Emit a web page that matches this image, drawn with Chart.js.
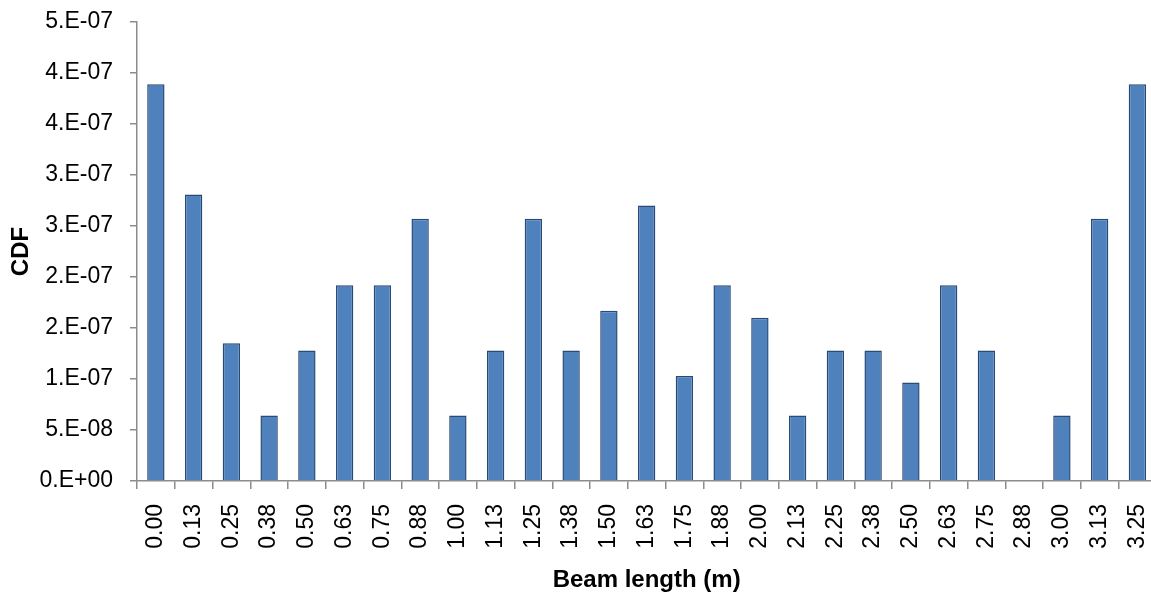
<!DOCTYPE html>
<html>
<head>
<meta charset="utf-8">
<script src="https://cdn.jsdelivr.net/npm/chart.js@4"></script>
<style>
    html, body { margin: 0; padding: 0; background: #fff; overflow: hidden; }
    canvas { display: block; }
</style>
</head>
<body>
<canvas id="grafico-cdf" width="1180" height="599"></canvas>
<script>
    // categories (beam length, m)
    const beamLength = ['0.00', '0.13', '0.25', '0.38', '0.50', '0.63', '0.75', '0.88', '1.00',
        '1.13', '1.25', '1.38', '1.50', '1.63', '1.75', '1.88', '2.00', '2.13', '2.25',
        '2.38', '2.50', '2.63', '2.75', '2.88', '3.00', '3.13', '3.25'];

    // CDF values
    const cdfValues = [3.89e-7, 2.81e-7, 1.35e-7, 6.42e-8, 1.28e-7, 1.92e-7, 1.92e-7, 2.57e-7, 6.42e-8,
        1.28e-7, 2.57e-7, 1.28e-7, 1.67e-7, 2.70e-7, 1.03e-7, 1.92e-7, 1.60e-7, 6.42e-8, 1.28e-7,
        1.28e-7, 9.65e-8, 1.92e-7, 1.28e-7, 0, 6.42e-8, 2.57e-7, 3.89e-7];

    // y axis ticks, labelled as Excel's 0.E+00 format shows them
    const yTickValues = [0, 5e-8, 1e-7, 1.5e-7, 2e-7, 2.5e-7, 3e-7, 3.5e-7, 4e-7, 4.5e-7];
    const yTickLabels = ['0.E+00', '5.E-08', '1.E-07', '2.E-07', '2.E-07', '3.E-07', '3.E-07', '4.E-07', '4.E-07', '5.E-07'];

    const axisColor = '#8c8c8c';
    const fontFamily = '"Liberation Sans", Arial, sans-serif';

    const ctx = document.getElementById('grafico-cdf');

    new Chart(ctx, {
        type: 'bar',
        data: {
            labels: beamLength,
            datasets: [{
                label: 'CDF',
                data: cdfValues,
                backgroundColor: '#4f81bd',
                borderColor: '#284a78',
                borderWidth: 1.5,
                barPercentage: 0.46,
                categoryPercentage: 1
            }]
        },
        options: {
            responsive: false,
            animation: false,
            layout: { padding: { top: 22, left: 0, right: 0, bottom: 0 } },
            plugins: {
                legend: { display: false },
                tooltip: { enabled: false }
            },
            scales: {
                x: {
                    offset: true,
                    grid: {
                        offset: true,
                        drawOnChartArea: false,
                        drawTicks: true,
                        tickLength: 8,
                        color: axisColor,
                        lineWidth: 1.5
                    },
                    border: { color: axisColor, width: 1.5 },
                    ticks: {
                        color: '#000',
                        font: { family: fontFamily, size: 23 },
                        minRotation: 90,
                        maxRotation: 90,
                        autoSkip: false,
                        padding: 15
                    },
                    title: {
                        display: true,
                        text: 'Beam length (m)',
                        color: '#000',
                        font: { family: fontFamily, size: 24, weight: 'bold' },
                        padding: { top: 0, bottom: 4 }
                    },
                    afterFit: (scale) => { scale.height = 118; }
                },
                y: {
                    min: 0,
                    max: 4.5e-7,
                    grid: {
                        drawOnChartArea: false,
                        drawTicks: true,
                        tickLength: 7,
                        color: axisColor,
                        lineWidth: 1.5
                    },
                    border: { color: axisColor, width: 1.5 },
                    afterBuildTicks: (scale) => {
                        scale.ticks = yTickValues.map(v => ({ value: v }));
                    },
                    ticks: {
                        color: '#000',
                        font: { family: fontFamily, size: 23 },
                        padding: 17,
                        callback: (value, index) => yTickLabels[index]
                    },
                    title: {
                        display: true,
                        text: 'CDF',
                        color: '#000',
                        font: { family: fontFamily, size: 24, weight: 'bold' },
                        padding: { top: 7, bottom: 0 }
                    },
                    afterFit: (scale) => {
                        scale.width = 137;
                        scale.paddingTop = 0;
                        scale.paddingBottom = 0;
                    }
                }
            }
        }
    });
</script>
</body>
</html>
